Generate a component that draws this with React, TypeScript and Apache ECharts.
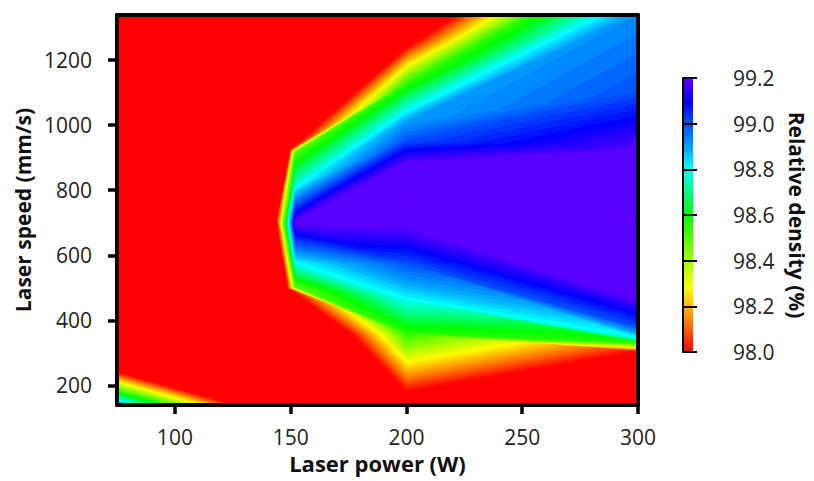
import React, { useEffect, useRef } from "react";
import * as echarts from "echarts";

// ---- axis ticks ----
const powerTicks = [100, 150, 200, 250, 300];
const speedTicks = [200, 400, 600, 800, 1000, 1200];
const densityTicks = [98.0, 98.2, 98.4, 98.6, 98.8, 99.0, 99.2];

// ---- contour mesh nodes: laser power (W), laser speed (mm/s), relative density (%) ----
const nodePower = [
  222, 254, 283, 300, 300, 300, 300, 300, 300, 300, 300, 300, 300,
  200, 200, 200, 200, 200, 200, 200, 200, 200, 200, 200, 200, 200,
  150, 152, 152, 152, 152, 152, 149, 177, 144,
  75, 126, 75,
];
const nodeSpeed = [
  1338, 1338, 1338, 1338, 1100, 922, 700, 463, 425, 380, 347, 331, 305,
  182, 360, 463, 576, 630, 685, 790, 882, 952, 1010, 1044, 1125, 1237,
  925, 915, 808, 700, 576, 505, 497, 355, 700,
  140, 140, 240,
];
const nodeDensity = [
  98.0, 98.55, 98.8, 98.92, 99.0, 99.2, 99.3, 99.2, 99.1, 99.0, 98.8, 98.55, 98.0,
  98.0, 98.55, 98.8, 99.0, 99.1, 99.2, 99.3, 99.2, 99.0, 98.9, 98.8, 98.55, 98.0,
  98.0, 98.5, 98.8, 99.2, 98.8, 98.5, 98.0, 98.0, 98.0,
  98.95, 98.0, 98.0,
];
// triangles of the interpolation mesh (node indices)
const triangles = [
  [25, 0, 1], [25, 1, 24], [24, 1, 2], [24, 2, 23], [23, 2, 3], [23, 3, 22],
  [22, 3, 4], [22, 4, 21], [21, 4, 5], [21, 5, 20], [20, 5, 6], [20, 6, 19],
  [19, 6, 7], [19, 7, 18], [18, 7, 8], [18, 8, 17], [17, 8, 9], [17, 9, 16],
  [16, 9, 10], [16, 10, 15], [15, 10, 11], [15, 11, 14], [14, 11, 12], [14, 12, 13],
  [26, 25, 24], [26, 24, 27], [27, 24, 23], [27, 23, 28], [28, 23, 22], [28, 22, 21],
  [28, 21, 29], [29, 21, 20], [29, 20, 19], [29, 19, 18],
  [29, 18, 17], [29, 17, 16], [29, 16, 30], [30, 16, 15], [30, 15, 31], [31, 15, 14],
  [31, 14, 32], [32, 14, 33], [33, 14, 13],
  [34, 26, 27], [34, 27, 28], [34, 28, 29], [34, 29, 30], [34, 30, 31], [34, 31, 32],
  [35, 36, 37],
];

// ---- styling ----
const colorStops: [number, string][] = [
  [98.0, "#ff0000"], [98.1, "#ff6000"], [98.19, "#ffb000"], [98.28, "#ffff00"],
  [98.4, "#a0ff00"], [98.6, "#00ff00"], [98.71, "#00ff90"], [98.81, "#00ffff"],
  [98.88, "#00b0ff"], [99.0, "#0050ff"], [99.09, "#0000ff"], [99.2, "#5a00ff"],
];
const levelStep = 0.02;
const FONT = "Open Sans";

const dMin = densityTicks[0];
const dMax = densityTicks[densityTicks.length - 1];

function hexRgb(h: string) {
  return [parseInt(h.slice(1, 3), 16), parseInt(h.slice(3, 5), 16), parseInt(h.slice(5, 7), 16)];
}
function cmap(v: number) {
  if (v <= colorStops[0][0]) return colorStops[0][1];
  const last = colorStops[colorStops.length - 1];
  if (v >= last[0]) return last[1];
  for (let i = 0; i < colorStops.length - 1; i++) {
    const [a, ca] = colorStops[i];
    const [b, cb] = colorStops[i + 1];
    if (v >= a && v <= b) {
      const t = (v - a) / (b - a);
      const A = hexRgb(ca), B = hexRgb(cb);
      const c = A.map((x, k) => Math.round(x + (B[k] - x) * t));
      return `rgb(${c[0]},${c[1]},${c[2]})`;
    }
  }
  return last[1];
}

const levels: number[] = [];
const nLev = Math.round((dMax - dMin) / levelStep);
for (let k = 0; k <= nLev; k++) levels.push(dMin + k * levelStep);
const bands: { lo: number; hi: number; color: string }[] = [];
bands.push({ lo: -Infinity, hi: levels[0], color: cmap(dMin) });
for (let k = 0; k < levels.length - 1; k++)
  bands.push({ lo: levels[k], hi: levels[k + 1], color: cmap((levels[k] + levels[k + 1]) / 2) });
bands.push({ lo: levels[levels.length - 1], hi: Infinity, color: cmap(dMax) });

type P = { x: number; y: number; v: number };
function clip(poly: P[], L: number, keepAbove: boolean): P[] {
  if (!isFinite(L)) return poly;
  const out: P[] = [];
  const n = poly.length;
  for (let i = 0; i < n; i++) {
    const p = poly[i], q = poly[(i + 1) % n];
    const pin = keepAbove ? p.v >= L : p.v <= L;
    const qin = keepAbove ? q.v >= L : q.v <= L;
    if (pin) out.push(p);
    if (pin !== qin) {
      const t = (L - p.v) / (q.v - p.v);
      out.push({ x: p.x + t * (q.x - p.x), y: p.y + t * (q.y - p.y), v: L });
    }
  }
  return out;
}

export default function App() {
  const ref = useRef<HTMLDivElement>(null);
  useEffect(() => {
    if (!ref.current) return;
    const chart = echarts.init(ref.current, undefined, { renderer: "svg" });

    const meshData = triangles.map((t) => [
      (nodePower[t[0]] + nodePower[t[1]] + nodePower[t[2]]) / 3,
      (nodeSpeed[t[0]] + nodeSpeed[t[1]] + nodeSpeed[t[2]]) / 3,
    ]);

    const gradStops = colorStops.map(([v, c]) => ({ offset: (v - dMin) / (dMax - dMin), color: c }));

    const option: any = {
      animation: false,
      backgroundColor: "#ffffff",
      textStyle: { fontFamily: FONT },
      grid: [
        { left: 117, top: 15, width: 521, height: 390, show: true, borderWidth: 0, backgroundColor: cmap(dMin) },
        { left: 683, top: 78, width: 10, height: 274 },
      ],
      xAxis: [
        {
          gridIndex: 0, type: "value", min: 75, max: 300, position: "bottom", z: 10,
          axisLine: { show: true, onZero: false, lineStyle: { color: "#000", width: 4 } },
          axisTick: { show: true, length: 9, customValues: powerTicks, lineStyle: { color: "#000", width: 3.5 } },
          axisLabel: {
            customValues: powerTicks, fontSize: 21, color: "#222", margin: 21, fontFamily: FONT,
            formatter: (v: number) => String(v),
          },
          splitLine: { show: false },
          name: "Laser power (W)", nameLocation: "middle", nameGap: 47,
          nameTextStyle: { fontSize: 22, fontWeight: "bold", color: "#111", fontFamily: FONT },
        },
        {
          gridIndex: 0, type: "value", min: 75, max: 300, position: "top", z: 10,
          axisLine: { show: true, onZero: false, lineStyle: { color: "#000", width: 4 } },
          axisTick: { show: false }, axisLabel: { show: false }, splitLine: { show: false },
        },
        { gridIndex: 1, type: "value", min: 0, max: 1, show: false },
      ],
      yAxis: [
        {
          gridIndex: 0, type: "value", min: 140, max: 1338, position: "left", z: 10,
          axisLine: { show: true, onZero: false, lineStyle: { color: "#000", width: 4 } },
          axisTick: { show: true, length: 9, customValues: speedTicks, lineStyle: { color: "#000", width: 3.5 } },
          axisLabel: {
            customValues: speedTicks, fontSize: 21, color: "#222", margin: 25, fontFamily: FONT,
            formatter: (v: number) => String(v),
          },
          splitLine: { show: false },
          name: "Laser speed (mm/s)", nameLocation: "middle", nameGap: 77,
          nameTextStyle: { fontSize: 21, fontWeight: "bold", color: "#111", fontFamily: FONT },
        },
        {
          gridIndex: 0, type: "value", min: 140, max: 1338, position: "right", z: 10,
          axisLine: { show: true, onZero: false, lineStyle: { color: "#000", width: 4 } },
          axisTick: { show: false }, axisLabel: { show: false }, splitLine: { show: false },
        },
        {
          gridIndex: 1, type: "value", min: dMin, max: dMax, position: "right", z: 10,
          axisLine: { show: true, lineStyle: { color: "#000", width: 2 } },
          axisTick: { show: true, length: 14, customValues: densityTicks, lineStyle: { color: "#000", width: 2 } },
          axisLabel: {
            customValues: densityTicks, fontSize: 21, color: "#222", margin: 40, fontFamily: FONT,
            formatter: (v: number) => v.toFixed(1),
          },
          splitLine: { show: false },
          name: "Relative density (%)", nameLocation: "middle", nameRotate: -90, nameGap: 93,
          nameTextStyle: { fontSize: 21, fontWeight: "bold", color: "#111", fontFamily: FONT },
        },
      ],
      series: [
        {
          type: "custom", coordinateSystem: "cartesian2d", xAxisIndex: 0, yAxisIndex: 0,
          silent: true, clip: true,
          data: meshData, encode: { x: 0, y: 1 },
          renderItem: (params: any, api: any) => {
            const t = triangles[params.dataIndex];
            const tri: P[] = t.map((i) => ({ x: nodePower[i], y: nodeSpeed[i], v: nodeDensity[i] }));
            const children: any[] = [];
            for (const b of bands) {
              let poly = clip(tri, b.lo, true);
              if (poly.length < 3) continue;
              poly = clip(poly, b.hi, false);
              if (poly.length < 3) continue;
              children.push({
                type: "polygon",
                shape: { points: poly.map((p) => api.coord([p.x, p.y])) },
                style: { fill: b.color, stroke: b.color, lineWidth: 0.8 },
              });
            }
            return { type: "group", children };
          },
        },
        {
          type: "custom", coordinateSystem: "cartesian2d", xAxisIndex: 2, yAxisIndex: 2,
          silent: true, data: [[0.5, (dMin + dMax) / 2]], encode: { x: 0, y: 1 },
          renderItem: (params: any, api: any) => {
            const p0 = api.coord([0, dMax]);
            const p1 = api.coord([1, dMin]);
            return {
              type: "rect",
              shape: { x: p0[0], y: p0[1], width: p1[0] - p0[0], height: p1[1] - p0[1] },
              style: { fill: new echarts.graphic.LinearGradient(0, 1, 0, 0, gradStops) },
            };
          },
        },
      ],
    };
    chart.setOption(option);
    return () => chart.dispose();
  }, []);
  return (
    <div
      ref={ref}
      style={{ position: "fixed", left: 0, top: 0, width: 814, height: 481, background: "#fff" }}
    />
  );
}
